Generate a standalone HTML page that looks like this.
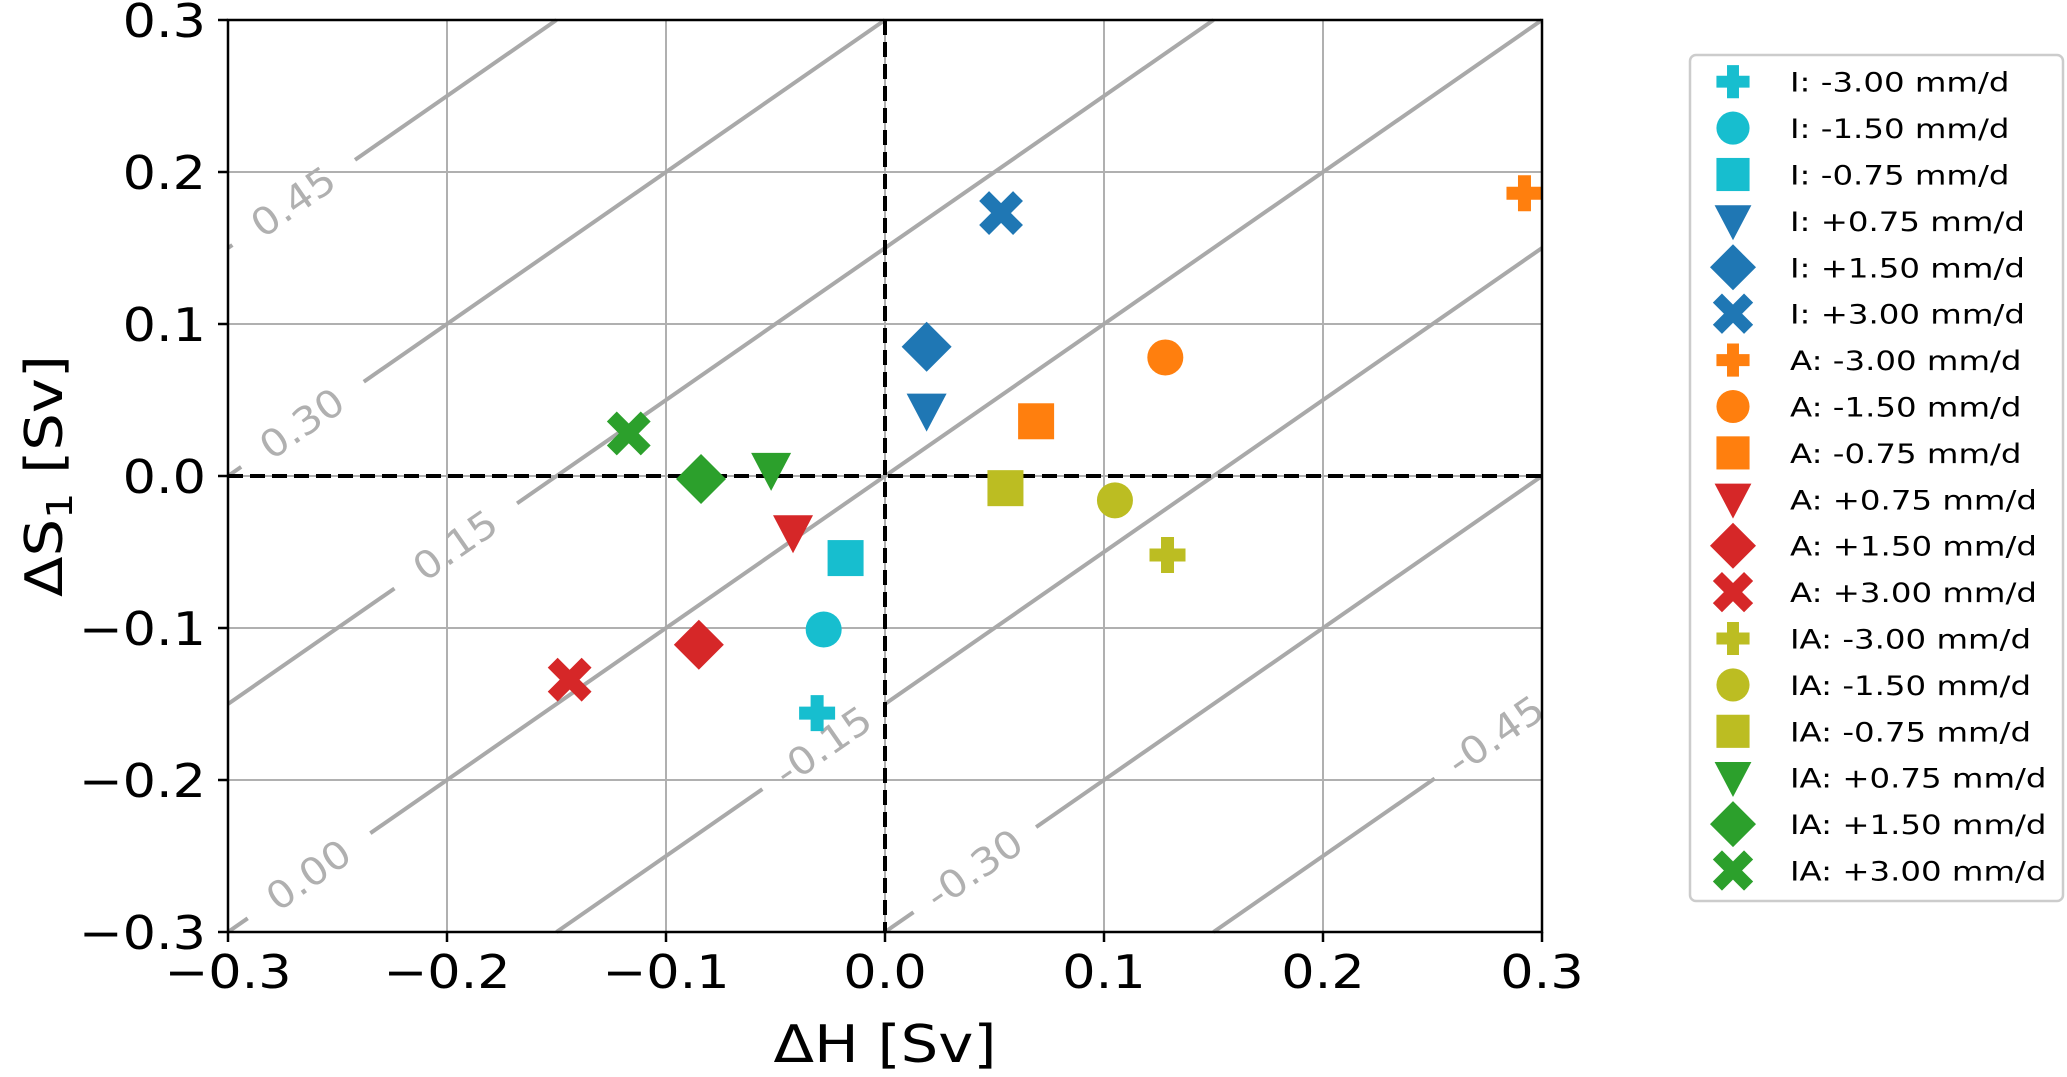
<!DOCTYPE html>
<html><head><meta charset="utf-8"><style>
html,body{margin:0;padding:0;background:#fff;}
svg{display:block;font-family:"DejaVu Sans","Liberation Sans",sans-serif;}
</style></head><body>
<svg id="chart" width="2067" height="1077" viewBox="0 0 2067 1077" xmlns="http://www.w3.org/2000/svg">
<g id="grid"></g>
<g id="contours"></g>
<g id="zero"></g>
<g id="points"></g>
<g id="axes"></g>
<text transform="translate(885,1062) scale(1.14,1)" font-size="52" text-anchor="middle">ΔH [Sv]</text>
<text transform="translate(62,476) rotate(-90) scale(1.14,1)" font-size="52" text-anchor="middle">ΔS<tspan font-size="36" dy="10">1</tspan><tspan dy="-10"> [Sv]</tspan></text>
<g id="legend"></g>
</svg>
<script>
const xTicks=[-0.3,-0.2,-0.1,0.0,0.1,0.2,0.3];
const yTicks=[-0.3,-0.2,-0.1,0.0,0.1,0.2,0.3];
const contourLevels=[-0.45,-0.30,-0.15,0.00,0.15,0.30,0.45];
const contourLabelX=[0.279,0.041,-0.028,-0.263,-0.196,-0.266,-0.270];
const seriesLabels=["I: -3.00 mm/d","I: -1.50 mm/d","I: -0.75 mm/d","I: +0.75 mm/d","I: +1.50 mm/d","I: +3.00 mm/d","A: -3.00 mm/d","A: -1.50 mm/d","A: -0.75 mm/d","A: +0.75 mm/d","A: +1.50 mm/d","A: +3.00 mm/d","IA: -3.00 mm/d","IA: -1.50 mm/d","IA: -0.75 mm/d","IA: +0.75 mm/d","IA: +1.50 mm/d","IA: +3.00 mm/d"];
const dH=[-0.031,-0.028,-0.018,0.019,0.019,0.053,0.292,0.128,0.069,-0.042,-0.085,-0.144,0.129,0.105,0.055,-0.052,-0.084,-0.117];
const dS=[-0.156,-0.101,-0.054,0.043,0.085,0.173,0.186,0.078,0.036,-0.037,-0.111,-0.134,-0.052,-0.016,-0.008,0.004,-0.002,0.028];
const seriesColors=["#17becf","#17becf","#17becf","#1f77b4","#1f77b4","#1f77b4","#ff7f0e","#ff7f0e","#ff7f0e","#d62728","#d62728","#d62728","#bcbd22","#bcbd22","#bcbd22","#2ca02c","#2ca02c","#2ca02c"];
const seriesMarkers=["plus","circle","square","tri","diamond","x","plus","circle","square","tri","diamond","x","plus","circle","square","tri","diamond","x"];

const L=228,R=1542,T=20,B=932,xmin=-0.3,xmax=0.3,ymin=-0.3,ymax=0.3;
const sx=v=>L+(v-xmin)/(xmax-xmin)*(R-L);
const sy=v=>B-(v-ymin)/(ymax-ymin)*(B-T);
const NS="http://www.w3.org/2000/svg";
function mk(tag,attrs,parent){const e=document.createElementNS(NS,tag);for(const k in attrs)e.setAttribute(k,attrs[k]);parent.appendChild(e);return e;}

const grid=document.getElementById('grid');
xTicks.forEach(t=>{const l=mk('line',{x1:sx(t),x2:sx(t),y1:T,y2:B,stroke:'#b0b0b0','stroke-width':2},grid);

});
yTicks.forEach(t=>{const l=mk('line',{x1:L,x2:R,y1:sy(t),y2:sy(t),stroke:'#b0b0b0','stroke-width':2},grid);

});

const cg=document.getElementById('contours');
const ang=-Math.atan((sy(0)-sy(0.1))/(sx(0.1)-sx(0)))*180/Math.PI;
contourLevels.forEach((c,i)=>{
  const x0=Math.max(xmin,ymin-c), x1=Math.min(xmax,ymax-c);
  if(x1<=x0)return;
  const lx=contourLabelX[i], gap=0.028;
  const segs=[[x0,Math.max(x0,lx-gap)],[Math.min(x1,lx+gap),x1]];
  segs.forEach(s=>{if(s[1]-s[0]<=0)return;
    const l=mk('line',{x1:sx(s[0]),y1:sy(s[0]+c),x2:sx(s[1]),y2:sy(s[1]+c),stroke:'#a9a9a9','stroke-width':4},cg);
    
    });
  const t=mk('text',{x:0,y:0,transform:`translate(${sx(lx)},${sy(lx+c)}) rotate(${ang}) scale(1.1,1)`,'font-size':38,fill:'#b0b0b0','text-anchor':'middle','dominant-baseline':'central'},cg);
  t.textContent=c.toFixed(2);
  
  
});

const zg=document.getElementById('zero');
const zx=mk('line',{x1:sx(0),x2:sx(0),y1:T,y2:B,stroke:'#000','stroke-width':4,'stroke-dasharray':'15 7'},zg);


const zy=mk('line',{x1:L,x2:R,y1:sy(0),y2:sy(0),stroke:'#000','stroke-width':4,'stroke-dasharray':'15 7'},zg);



function marker(type,cx,cy,color,parent,s){
  let e;
  if(type==='circle')e=mk('circle',{cx:cx,cy:cy,r:18*s,fill:color},parent);
  else if(type==='square')e=mk('rect',{x:cx-18*s,y:cy-18*s,width:36*s,height:36*s,fill:color},parent);
  else if(type==='tri')e=mk('polygon',{points:`${cx-20*s},${cy-17*s} ${cx+20*s},${cy-17*s} ${cx},${cy+21*s}`,fill:color},parent);
  else if(type==='diamond')e=mk('polygon',{points:`${cx},${cy-25*s} ${cx+25*s},${cy} ${cx},${cy+25*s} ${cx-25*s},${cy}`,fill:color},parent);
  else if(type==='plus'){const a=18*s,b=6.5*s;e=mk('path',{d:`M${cx-b},${cy-a}h${2*b}v${a-b}h${a-b}v${2*b}h${-(a-b)}v${a-b}h${-2*b}v${-(a-b)}h${-(a-b)}v${-2*b}h${a-b}z`,fill:color},parent);}
  else {const a=12*s;e=mk('path',{d:`M${cx-a},${cy-a}L${cx+a},${cy+a}M${cx+a},${cy-a}L${cx-a},${cy+a}`,stroke:color,'stroke-width':14*s,'stroke-linecap':'square',fill:'none'},parent);}
  return e;
}
const pg=document.getElementById('points');
dH.forEach((v,i)=>{const m=marker(seriesMarkers[i],sx(v),sy(dS[i]),seriesColors[i],pg,1);

});

const ag=document.getElementById('axes');
const fr=mk('rect',{x:L,y:T,width:R-L,height:B-T,fill:'none',stroke:'#000','stroke-width':2.5},ag);


xTicks.forEach(t=>{mk('line',{x1:sx(t),x2:sx(t),y1:B,y2:B+10,stroke:'#000','stroke-width':2.5},ag);
  const tx=mk('text',{transform:`translate(${sx(t)},988) scale(1.14,1)`,'font-size':46,'text-anchor':'middle'},ag);
  tx.textContent=(t<0?'\u2212':'')+Math.abs(t).toFixed(1);
  
  });
yTicks.forEach(t=>{mk('line',{x1:L-10,x2:L,y1:sy(t),y2:sy(t),stroke:'#000','stroke-width':2.5},ag);
  const tx=mk('text',{transform:`translate(206,${sy(t)+17}) scale(1.14,1)`,'font-size':46,'text-anchor':'end'},ag);
  tx.textContent=(t<0?'\u2212':'')+Math.abs(t).toFixed(1);
  
  });

const lg=document.getElementById('legend');
const box=mk('rect',{x:1690,y:55,width:373,height:846,rx:6,fill:'#fff',stroke:'#cccccc','stroke-width':2.5},lg);


seriesLabels.forEach((lab,i)=>{
  const y=81.7+i*46.4;
  const g=mk('g',{},lg);
  
  
  marker(seriesMarkers[i],1733,y,seriesColors[i],g,0.92);
  const t=mk('text',{transform:`translate(1790,${y+10}) scale(1.2,1)`,'font-size':27},g);
  t.textContent=lab;
});
</script>
</body></html>
